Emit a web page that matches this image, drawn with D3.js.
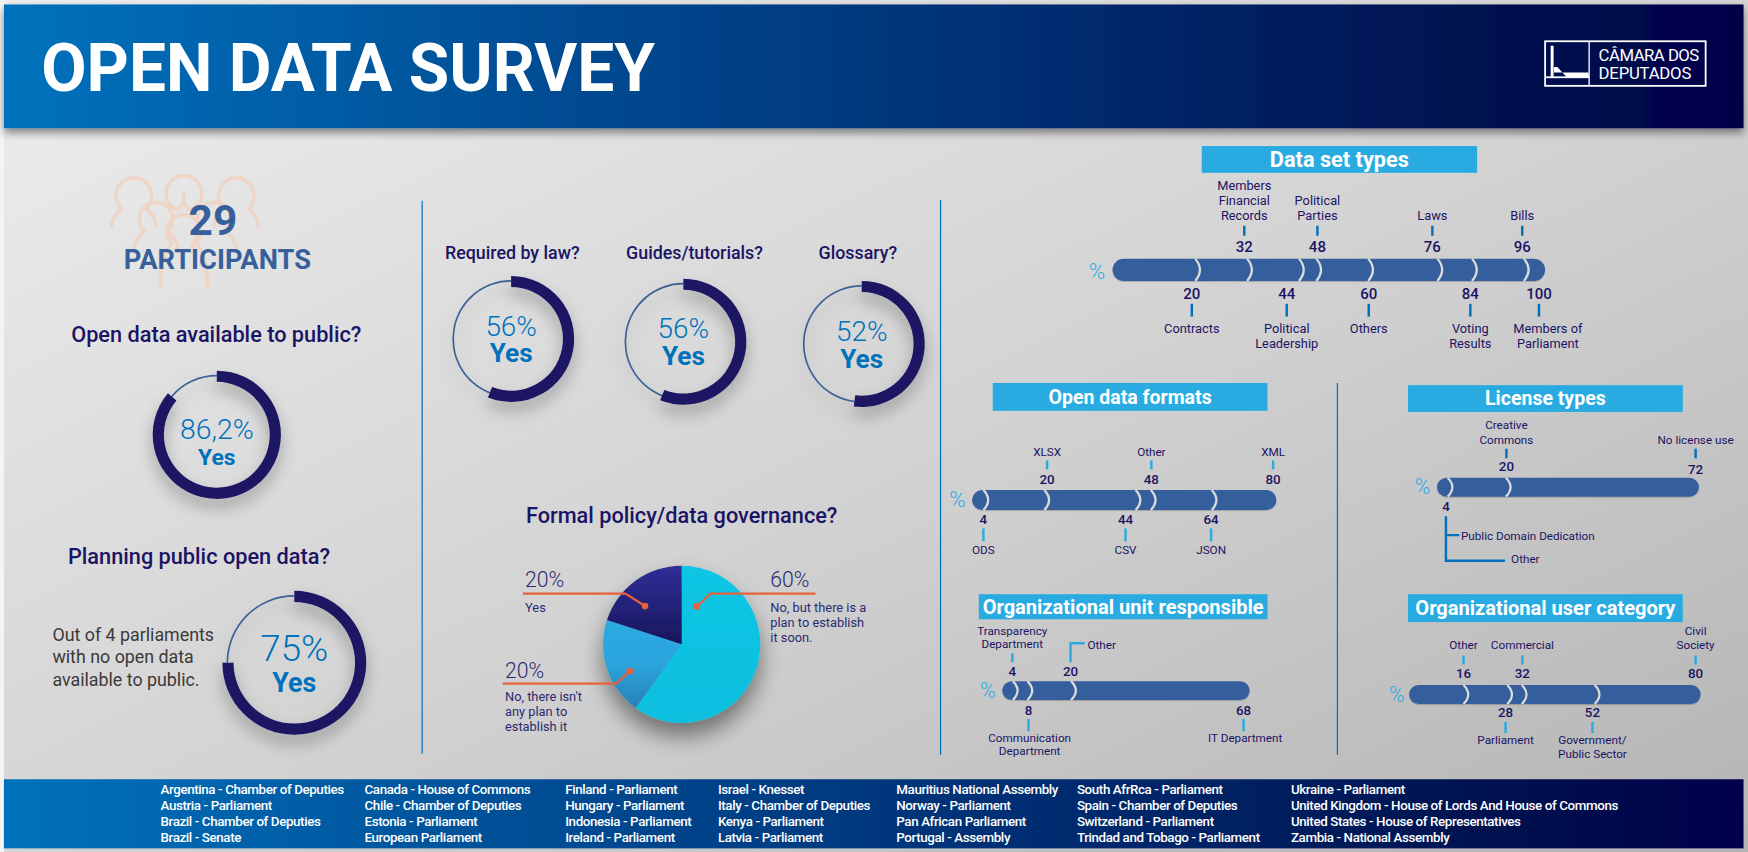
<!DOCTYPE html>
<html><head><meta charset="utf-8"><title>Open Data Survey</title>
<script src="https://cdn.jsdelivr.net/npm/d3@7/dist/d3.min.js"></script>
<style>
html,body{margin:0;padding:0;background:#ddd;overflow:hidden}
svg{display:block}
text{font-family:Roboto,sans-serif}
</style></head><body><div id="c"></div>
<script>
// ---- data ----
const titleText = "OPEN DATA SURVEY";
const participantsCount = "29";
const participantsLabel = "PARTICIPANTS";

const donutQuestions = ["Open data available to public?","Planning public open data?","Required by law?","Guides/tutorials?","Glossary?"];
const donutValues = [86.2,75,56,56,52];
const donutTexts = ["86,2%","75%","56%","56%","52%"];

const pieTitle = "Formal policy/data governance?";
const pieValues = [60,20,20];
const pieLabels = ["60%","20%","20%"];
const pieNotes = [["No, but there is a","plan to establish","it soon."],["No, there isn't","any plan to","establish it"],["Yes"]];

const datasetValues = [20,32,44,48,60,76,84,96,100];
const datasetLabels = [["Contracts"],["Members","Financial","Records"],["Political","Leadership"],["Political","Parties"],["Others"],["Laws"],["Voting","Results"],["Bills"],["Members of","Parliament"]];
const datasetSides = [1,0,1,0,1,0,1,0,1];

const formatValues = [4,20,44,48,64,80];
const formatLabels = [["ODS"],["XLSX"],["CSV"],["Other"],["JSON"],["XML"]];
const formatSides = [1,0,1,0,1,0];

const licenseValues = [4,20,72];
const licenseLabels = [[],["Creative","Commons"],["No license use"]];
const licenseSides = [1,0,0];
const licenseTree = ["Public Domain Dedication","Other"];

const unitValues = [4,8,20,68];
const unitLabels = [["Transparency","Department"],["Communication","Department"],[],["IT Department"]];
const unitSides = [0,1,0,1];
const unitElbowLabel = "Other";

const userValues = [16,28,32,52,80];
const userLabels = [["Other"],["Parliament"],["Commercial"],["Government/","Public Sector"],["Civil","Society"]];
const userSides = [0,1,0,1,0];

const parliamentColumns = [
 ["Argentina - Chamber of Deputies","Austria - Parliament","Brazil - Chamber of Deputies","Brazil - Senate"],
 ["Canada - House of Commons","Chile  - Chamber of Deputies","Estonia - Parliament","European Parliament"],
 ["Finland - Parliament","Hungary - Parliament","Indonesia - Parliament","Ireland - Parliament"],
 ["Israel - Knesset","Italy -  Chamber of Deputies","Kenya - Parliament","Latvia - Parliament"],
 ["Mauritius National Assembly","Norway - Parliament","Pan African Parliament","Portugal - Assembly"],
 ["South AfrRca - Parliament","Spain - Chamber of Deputies","Switzerland - Parliament","Trindad and Tobago - Parliament"],
 ["Ukraine - Parliament","United Kingdom - House of Lords And House of Commons","United States - House of Representatives","Zambia - National Assembly"]
];

// ---- layout ----
const NAVY="#1b1464", STEEL="#365f9c", SKY="#29abe2", BLUE="#0072bc", ORANGE="#e8613c";
const svg=d3.select("#c").append("svg").attr("width",1748).attr("height",852).attr("viewBox","0 0 1568 764.25");
const defs=svg.append("defs");
function lin(id,stops,x2=1,y2=0){
  const g=defs.append("linearGradient").attr("id",id).attr("x1",0).attr("y1",0).attr("x2",x2).attr("y2",y2);
  stops.forEach(s=>g.append("stop").attr("offset",s[0]).attr("stop-color",s[1]));
}
lin("bg",[[0,"#eeeeee"],[.5,"#d4d4d4"],[1,"#b4b4b4"]],1,1);
lin("band",[[0,"#0072bc"],[.35,"#00488f"],[.62,"#002a6e"],[.85,"#00124f"],[1,"#00004a"]]);
lin("pieA",[[0,"#10c6e4"],[1,"#10bedf"]],0,1);
lin("pieB",[[0,"#29abe2"],[.5,"#29a4dc"],[1,"#2c7fb8"]],0,1);
lin("pieC",[[0,"#2f2e98"],[1,"#18165c"]],0,1);
function shadow(id,dy,blur,op){
  const f=defs.append("filter").attr("id",id).attr("x","-40%").attr("y","-40%").attr("width","180%").attr("height","190%");
  f.append("feDropShadow").attr("dx",0).attr("dy",dy).attr("stdDeviation",blur).attr("flood-color","#000").attr("flood-opacity",op);
}
shadow("sHead",4,4,.45); shadow("sRing",8,7,.28); shadow("sPie",12,10,.45); shadow("sBar",1,.6,.18);

svg.append("rect").attr("width",1568).attr("height",765).attr("fill","url(#bg)");
svg.append("rect").attr("x",0).attr("y",0).attr("width",3.5).attr("height",765).attr("fill","#f4f4f4");
svg.append("rect").attr("x",3.5).attr("y",4).attr("width",1560.5).attr("height",111).attr("fill","url(#band)").attr("filter","url(#sHead)");
svg.append("rect").attr("x",3.5).attr("y",699).attr("width",1560.5).attr("height",62).attr("fill","url(#band)");

function txt(s,x,y,size,fill,weight=400,anchor="middle",extra={}){
  const t=svg.append("text").attr("x",x).attr("y",y).attr("font-size",size).attr("fill",fill).attr("font-weight",weight).attr("text-anchor",anchor).text(s);
  Object.entries(extra).forEach(([k,v])=>t.style(k,v));
  return t;
}

// header
txt(titleText,37,82,59,"#fff",700,"start");
const logo=svg.append("g");
logo.append("rect").attr("x",1386).attr("y",37).attr("width",144).attr("height",40).attr("fill","none").attr("stroke","#fff").attr("stroke-width",1.6);
logo.append("line").attr("x1",1425.5).attr("x2",1425.5).attr("y1",37).attr("y2",77).attr("stroke","#fff").attr("stroke-width",1.2);
logo.append("rect").attr("x",1391).attr("y",41).attr("width",2.6).attr("height",28).attr("fill","#fff");
logo.append("path").attr("d","M1386 65H1425V70H1406L1397 60H1394V65Z").attr("fill","#fff");
logo.append("rect").attr("x",1386).attr("y",68.5).attr("width",39.5).attr("height",1.6).attr("fill","#fff");
txt("CÂMARA DOS",1434,54.5,15,"#fff",400,"start",{"letter-spacing":"-.45px"});
txt("DEPUTADOS",1434,71,15,"#fff",400,"start",{"letter-spacing":"-.2px"});

// vertical rules
[[378.7,180,676],[843.7,179.5,677],[1199.7,343.5,677]].forEach(d=>
  svg.append("line").attr("x1",d[0]).attr("x2",d[0]).attr("y1",d[1]).attr("y2",d[2]).attr("stroke",BLUE).attr("stroke-width",1.1));

// participants icon
const people=svg.append("g").attr("fill","none").attr("stroke","#efd5c6").attr("stroke-width",3.2).attr("stroke-linecap","round");
function person(cx,cy,r,w,h){
  people.append("path").attr("d",`M${cx-r*.7} ${cy+r*.75}A${r} ${r} 0 1 1 ${cx+r*.7} ${cy+r*.75}`);
  people.append("path").attr("d",`M${cx-r*.7} ${cy+r*.75}Q${cx-w} ${cy+r*1.3} ${cx-w} ${cy+h}M${cx+r*.7} ${cy+r*.75}Q${cx+w} ${cy+r*1.3} ${cx+w} ${cy+h}`);
}
[[120,175,16,20,28],[165,173,16,0,0],[212,175,16,20,28],[140,196,15,20,30],[192,196,15,20,30],[165,207,15,21,50]].forEach(p=>person(...p));
txt(participantsCount,191,211,38,STEEL,700);
txt(participantsLabel,195,241.5,24.5,STEEL,700);

// donuts
const pct=d3.scaleLinear().domain([0,100]).range([0,2*Math.PI]);
const donutSpots=[[194.5,390,57.5],[264,594.5,64.5],[458.5,304,56.5],[613,306.5,56.5],[773,308.5,56.5]];
const donutTitleSpots=[[194,307,19.5],[178.5,506,19.5],[459.5,232,16],[623,232,16],[769.5,232,16]];
const donutPctStyle=[[394,25.5,417,20.5],[593,33,621,24],[301.4,25,324.5,23.5],[303.5,25,327,23.5],[306,25,330,23.5]];
donutValues.forEach((v,i)=>{
  const [cx,cy,R]=donutSpots[i], thick=10, g=svg.append("g").attr("transform",`translate(${cx},${cy})`).attr("filter","url(#sRing)");
  g.append("path").attr("d",d3.arc()({innerRadius:R-5.2,outerRadius:R-3.7,startAngle:pct(v),endAngle:pct(100)})).attr("fill","#3a6196");
  g.append("path").attr("d",d3.arc()({innerRadius:R-thick,outerRadius:R,startAngle:0,endAngle:pct(v)})).attr("fill","#1b1464");
  const ts=donutTitleSpots[i]; txt(donutQuestions[i],ts[0],ts[1],ts[2],NAVY,500);
  const s=donutPctStyle[i];
  txt(donutTexts[i],cx,s[0],s[1],BLUE,300);
  txt("Yes",cx,s[2],s[3],BLUE,700);
});
["Out of 4 parliaments","with no open data","available to public."].forEach((l,i)=>txt(l,47,[575,595,615][i],16,"#3a3a3a",400,"start"));

// pie
txt(pieTitle,611.5,469,19.5,NAVY,500);
const pie=d3.pie().sort(null).value(d=>d)(pieValues);
const pieG=svg.append("g").attr("transform","translate(611.5,578)").attr("filter","url(#sPie)");
pieG.selectAll("path").data(pie).join("path")
  .attr("d",d3.arc().innerRadius(0).outerRadius(70.5))
  .attr("fill",(d,i)=>["url(#pieA)","url(#pieB)","url(#pieC)"][i]);
const leaders=[[[731.5,532.5],[637.5,532.5],[625,544]],[[451,613.3],[552.5,613.3],[565,602]],[[469,532.5],[561,532.5],[578.6,543.6]]];
leaders.forEach(pts=>{
  svg.append("path").attr("d",d3.line()(pts)).attr("fill","none").attr("stroke",ORANGE).attr("stroke-width",2);
  svg.append("circle").attr("cx",pts[2][0]).attr("cy",pts[2][1]).attr("r",3).attr("fill",ORANGE);
});
const pieTextSpots=[[691,527,549],[453,608,629],[471,527,549]];
pieLabels.forEach((l,i)=>{
  const s=pieTextSpots[i];
  txt(l,s[0],s[1],19,"#2b2a6e",300,"start");
  pieNotes[i].forEach((n,j)=>txt(n,s[0],s[2]+j*13.4,11.5,"#2b2a6e",400,"start"));
});

// section header boxes
[["Data set types",1078,131,247,24,19.5],["Open data formats",890.5,343.5,246.5,25,17.5],["License types",1263,345.5,246.5,24,17.5],
 ["Organizational unit responsible",878,533,259,22.5,18],["Organizational user category",1263,533,246.5,25,18]].forEach(b=>{
  svg.append("rect").attr("x",b[1]).attr("y",b[2]).attr("width",b[3]).attr("height",b[4]).attr("fill",SKY);
  txt(b[0],b[1]+b[3]/2,b[2]+b[4]/2+b[5]*.35,b[5],"#fff",700);
});

// segmented bars
function bar(cfg){
  const x=d3.scaleLinear().domain([0,d3.max(cfg.values)]).range(cfg.range);
  const h=cfg.y1-cfg.y0, mid=(cfg.y0+cfg.y1)/2;
  svg.append("rect").attr("x",cfg.range[0]).attr("y",cfg.y0).attr("width",cfg.range[1]-cfg.range[0]).attr("height",h)
    .attr("rx",h/2).attr("fill",STEEL).attr("filter","url(#sBar)");
  cfg.values.filter(v=>v<d3.max(cfg.values)).forEach(v=>{
    const p=d3.path(), X=x(v);
    p.moveTo(X-3.5,cfg.y0); p.quadraticCurveTo(X+5,mid,X-3.5,cfg.y1);
    svg.append("path").attr("d",p.toString()).attr("fill","none").attr("stroke","#dcdcdc").attr("stroke-width",2);
  });
  txt("%",cfg.pct[0],cfg.pct[1],cfg.pct[2],SKY,300);
  cfg.values.forEach((v,i)=>{
    const sx=x(v)+cfg.nudge[i], up=cfg.sides[i]===0, a=up?cfg.up:cfg.down;
    txt(String(v),sx,(cfg.numY&&cfg.numY[i])||a.num,cfg.numSize,NAVY,500);
    const lines=cfg.labels[i];
    if(!lines.length) return;
    svg.append("line").attr("x1",sx).attr("x2",sx).attr("y1",a.tick[0]).attr("y2",a.tick[1]).attr("stroke",cfg.tick).attr("stroke-width",2.2);
    const lx=sx+((cfg.labelDx&&cfg.labelDx[i])||0);
    lines.forEach((l,j)=>{
      const y=up? a.label-(lines.length-1-j)*cfg.lh : a.label+j*cfg.lh;
      txt(l,lx,y,cfg.labelSize,NAVY,400);
    });
  });
  return x;
}
bar({values:datasetValues,labels:datasetLabels,sides:datasetSides,range:[998,1386],y0:232,y1:252,pct:[984,250,20],tick:BLUE,
  nudge:[-6.5,-6,-14.5,-2.5,-3,-8,-5,-5,-5.5],labelDx:[0,0,0,0,0,0,0,0,8],numSize:13.5,labelSize:11.5,lh:13.3,
  up:{num:226,tick:[202.5,211.5],label:197},down:{num:268,tick:[272.5,284],label:298.5}});
bar({values:formatValues,labels:formatLabels,sides:formatSides,range:[872,1145],y0:439.5,y1:457.5,pct:[859,455,20],tick:SKY,
  nudge:[-3.5,-1,-12.5,-3,-4,-3],numSize:12,labelSize:10.5,lh:13,
  up:{num:434,tick:[413,421],label:409},down:{num:470,tick:[474,485.5],label:497}});
const lx=bar({values:licenseValues,labels:licenseLabels,sides:licenseSides,range:[1289,1524],y0:428.5,y1:445.5,pct:[1276,443,19],tick:BLUE,
  nudge:[-5,-3,-3],numY:[0,422.5,425],numSize:12,labelSize:10.5,lh:13,
  up:{num:423,tick:[402.5,411],label:398},down:{num:458.5,tick:[0,0],label:0}});
const tx=lx(4)-5;
svg.append("path").attr("d",`M${tx} 463V503H1350M${tx} 480H1309`).attr("fill","none").attr("stroke",BLUE).attr("stroke-width",2.2);
txt(licenseTree[0],1310.5,484,10.5,NAVY,400,"start");
txt(licenseTree[1],1355.5,505,10.5,NAVY,400,"start");
const ux=bar({values:unitValues,labels:unitLabels,sides:unitSides,range:[899,1121],y0:611,y1:628,pct:[886,626,19],tick:SKY,
  nudge:[-4,-2.5,-4,-5.5],labelDx:[0,1,0,1.5],numSize:12,labelSize:10.5,lh:11.5,
  up:{num:606.5,tick:[586,594],label:581},down:{num:641,tick:[645,656],label:666}});
const ex=ux(20)-4;
svg.append("path").attr("d",`M${ex} 594V577H973`).attr("fill","none").attr("stroke",SKY).attr("stroke-width",2.2);
txt(unitElbowLabel,975.5,582,10.5,NAVY,400,"start");
bar({values:userValues,labels:userLabels,sides:userSides,range:[1264,1525.5],y0:614.5,y1:631.5,pct:[1253,630,19],tick:SKY,
  nudge:[-3.5,-5,-3,-5.5,-4.5],numSize:12,labelSize:10.5,lh:12,
  up:{num:608.5,tick:[588,596],label:582},down:{num:643,tick:[647.5,657.5],label:667.5}});

// footer
const colX=[144,327,507,644,804,966,1158], rowY=[712.5,727,741,755];
parliamentColumns.forEach((col,i)=>col.forEach((s,j)=>txt(s,colX[i],rowY[j],12,"#fff",500,"start",{"letter-spacing":"-.35px"})));
</script></body></html>
